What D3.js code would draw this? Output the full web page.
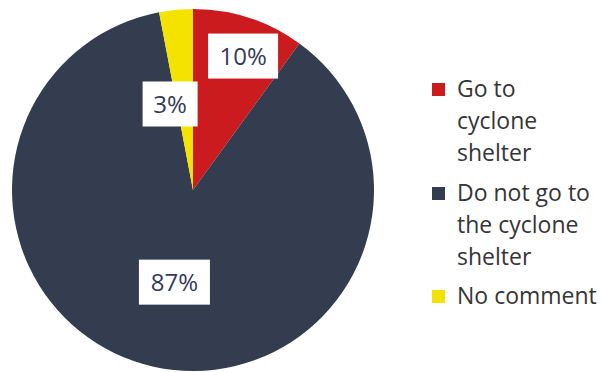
<!DOCTYPE html>
<html>
<head>
<meta charset="utf-8">
<script src="https://cdn.jsdelivr.net/npm/d3@7"></script>
<style>
  html, body { margin: 0; padding: 0; background: #ffffff; }
  svg { display: block; }
</style>
</head>
<body>
<svg id="chart" width="604" height="372"></svg>
<script>
// Survey answers on going to the cyclone shelter
const categories = ["Go to cyclone shelter", "Do not go to the cyclone shelter", "No comment"];
const values = [10, 87, 3];
const valueLabels = ["10%", "87%", "3%"];
const legendLines = [["Go to", "cyclone", "shelter"], ["Do not go to", "the cyclone", "shelter"], ["No comment"]];
const colors = ["#cc1b1e", "#333d4f", "#f4e200"];

const svg = d3.select("#chart");
const cx = 193, cy = 190, radius = 181;

const color = d3.scaleOrdinal().domain(categories).range(colors);

const pie = d3.pie().sort(null).value(d => d.value);
const arcs = pie(categories.map((c, i) => ({ category: c, value: values[i], label: valueLabels[i] })));
const arc = d3.arc().innerRadius(0).outerRadius(radius);

const g = svg.append("g").attr("transform", `translate(${cx},${cy})`);

g.selectAll("path.slice")
  .data(arcs)
  .join("path")
  .attr("class", "slice")
  .attr("d", arc)
  .attr("fill", d => color(d.data.category));

// Label boxes sit along each slice's mid-angle at their own distance from the centre
const labelRadius = [143, 94, 89];
const labelAngleShift = [2.5, -1.2, -9.5]; // degrees
const boxWidth = [70, 71, 55];
const boxHeight = 45;

const labels = g.selectAll("g.label")
  .data(arcs)
  .join("g")
  .attr("class", "label")
  .attr("transform", (d, i) => {
    const a = (d.startAngle + d.endAngle) / 2 + labelAngleShift[i] * Math.PI / 180;
    const r = labelRadius[i];
    return `translate(${r * Math.sin(a)},${-r * Math.cos(a)})`;
  });

labels.append("rect")
  .attr("x", (d, i) => -boxWidth[i] / 2)
  .attr("y", -boxHeight / 2)
  .attr("width", (d, i) => boxWidth[i])
  .attr("height", boxHeight)
  .attr("fill", "#ffffff");

labels.append("text")
  .attr("text-anchor", "middle")
  .attr("dy", "0.36em")
  .attr("font-family", "'Open Sans', sans-serif")
  .attr("font-size", 24)
  .attr("fill", "#363a58")
  .text(d => d.data.label);

// Legend
const legendX = 432, textX = 457;
const firstBaselines = [97, 201, 304];
const lineStep = 32;

const legend = svg.append("g").attr("class", "legend");
const items = legend.selectAll("g.item")
  .data(categories)
  .join("g")
  .attr("class", "item");

items.append("rect")
  .attr("x", legendX)
  .attr("y", (d, i) => firstBaselines[i] - 14)
  .attr("width", 13)
  .attr("height", 13)
  .attr("fill", d => color(d));

items.append("text")
  .attr("font-family", "'Open Sans', sans-serif")
  .attr("font-size", 23)
  .attr("fill", "#363636")
  .each(function (d, i) {
    d3.select(this).selectAll("tspan")
      .data(legendLines[i])
      .join("tspan")
      .attr("x", textX)
      .attr("y", (t, j) => firstBaselines[i] + j * lineStep)
      .text(t => t);
  });
</script>
</body>
</html>
